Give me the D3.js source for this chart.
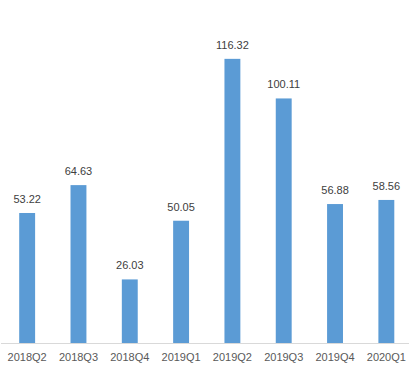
<!DOCTYPE html>
<html><head><meta charset="utf-8">
<script src="https://cdn.jsdelivr.net/npm/d3@7"></script>
<style>body{margin:0;background:#fff}</style>
</head><body>
<svg id="c" width="414" height="369"></svg>
<script>
const categories = ["2018Q2","2018Q3","2018Q4","2019Q1","2019Q2","2019Q3","2019Q4","2020Q1"];
const values = [53.22,64.63,26.03,50.05,116.32,100.11,56.88,58.56];
const labels = ["53.22","64.63","26.03","50.05","116.32","100.11","56.88","58.56"];

const svg = d3.select("#c");
const x = d3.scaleBand().domain(categories).range([1.5, 412]).paddingInner(0.69).paddingOuter(0.345);
const y = d3.scaleLinear().domain([0,140]).range([343, 1]);
const font = "'Liberation Sans', Arial, sans-serif";

svg.append("line").attr("x1",1).attr("x2",409).attr("y1",y(0)+0.5).attr("y2",y(0)+0.5)
  .attr("stroke","#d9d9d9").attr("stroke-width",1);

svg.selectAll("rect.bar").data(values).enter().append("rect")
  .attr("x",(d,i)=>x(categories[i])).attr("width",x.bandwidth())
  .attr("y",d=>y(d)).attr("height",d=>y(0)-y(d)).attr("fill","#5b9bd5");

svg.selectAll("text.val").data(values).enter().append("text")
  .attr("x",(d,i)=>x(categories[i])+x.bandwidth()/2).attr("y",d=>y(d)-10)
  .attr("text-anchor","middle").attr("font-family",font).attr("font-size","11px").attr("fill","#404040")
  .text((d,i)=>labels[i]);

svg.selectAll("text.cat").data(categories).enter().append("text")
  .attr("x",d=>x(d)+x.bandwidth()/2).attr("y",361)
  .attr("text-anchor","middle").attr("font-family",font).attr("font-size","11px").attr("fill","#595959")
  .text(d=>d);
</script>
</body></html>
